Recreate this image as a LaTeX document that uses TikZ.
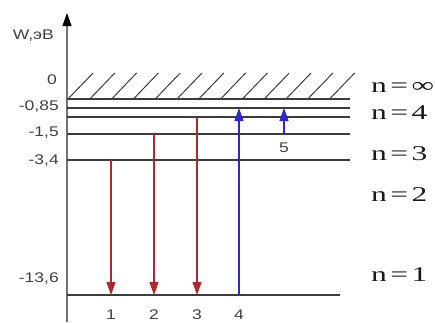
\documentclass[tikz,border=0pt]{standalone}
\usepackage{fontspec}
\setmainfont{Liberation Serif}
\newfontfamily\lsans[FakeStretch=1.25]{Liberation Sans}
\newfontfamily\nserif[FakeStretch=1.5]{Liberation Serif}
\usetikzlibrary{arrows.meta}
\definecolor{lvl}{HTML}{3C3C3C}
\definecolor{ared}{HTML}{B0282C}
\definecolor{ablue}{HTML}{2A2ACC}
\definecolor{txt}{HTML}{404040}
\tikzset{
  level/.style={draw=lvl, line width=1.3pt},
  hatchline/.style={draw=lvl, line width=1.0pt},
  emis/.style={draw=ared, line width=1.1pt, -{Triangle[length=13pt,width=9pt]}},
  absb/.style={draw=ablue, line width=1.1pt, -{Triangle[length=13pt,width=9pt]}},
  elab/.style={font=\lsans\fontsize{14}{14}\selectfont, text=txt, anchor=east, inner sep=0pt},
  nlab/.style={font=\nserif\fontsize{21}{21}\selectfont, text=black!90, anchor=west, inner sep=0pt},
  numlab/.style={font=\lsans\fontsize{14}{14}\selectfont, text=txt, inner sep=0pt}
}
\begin{document}
\begin{tikzpicture}[x=1pt,y=-1pt]
\useasboundingbox (0,0) rectangle (435,322);
% axis
\coordinate (ax0) at (67,322);
\coordinate (ax1) at (67,13);
\draw[draw=gray!90!black, line width=1.2pt, -{Triangle[length=13pt,width=9pt,fill=black,color=black]}] (ax0) -- (ax1);
\node[elab] (wlab) at (54,36) {W,эВ};
% levels
\coordinate (L0a) at (67,99);   \coordinate (L0b) at (350,99);
\coordinate (L5a) at (67,108);  \coordinate (L5b) at (350,108);
\coordinate (L4a) at (67,117);  \coordinate (L4b) at (350,117);
\coordinate (L3a) at (67,134);  \coordinate (L3b) at (350,134);
\coordinate (L2a) at (67,160);  \coordinate (L2b) at (350,160);
\coordinate (L1a) at (67,295);  \coordinate (L1b) at (340,295);
\draw[level, line width=1.7pt] (L0a) -- (L0b);
\draw[level] (L5a) -- (L5b);
\draw[level] (L4a) -- (L4b);
\draw[level] (L3a) -- (L3b);
\draw[level] (L2a) -- (L2b);
\draw[level] (L1a) -- (L1b);
% hatching
\foreach \k in {0,...,12} {
  \draw[hatchline] (68+21.8*\k,99) -- ++(25,-26);
}
% energy labels
\node[elab] (e0) at (57,80) {0};
\node[elab] (e1) at (59,107) {-0,85};
\node[elab] (e2) at (59,133) {-1,5};
\node[elab] (e3) at (59,161) {-3,4};
\node[elab] (e4) at (59,278) {-13,6};
% n labels
\node[nlab] (ninf) at (371,87) {n\,=\,∞};
\node[nlab] (n4) at (371,113) {n\,=\,4};
\node[nlab] (n3) at (371,154) {n\,=\,3};
\node[nlab] (n2) at (371,195) {n\,=\,2};
\node[nlab] (n1) at (371,275) {n\,=\,1};
% transitions
\coordinate (t1s) at (111,160); \coordinate (t1e) at (111,295);
\coordinate (t2s) at (154,134); \coordinate (t2e) at (154,295);
\coordinate (t3s) at (197,117); \coordinate (t3e) at (197,295);
\coordinate (t4s) at (239,295); \coordinate (t4e) at (239,108);
\coordinate (t5s) at (284,134); \coordinate (t5e) at (284,108);
\draw[emis] (t1s) -- (t1e);
\draw[emis] (t2s) -- (t2e);
\draw[emis] (t3s) -- (t3e);
\draw[absb] (t4s) -- (t4e);
\draw[absb] (t5s) -- (t5e);
\node[numlab] (l1) at (111,315) {1};
\node[numlab] (l2) at (154,315) {2};
\node[numlab] (l3) at (197,315) {3};
\node[numlab] (l4) at (239,315) {4};
\node[numlab] (l5) at (284,148) {5};
\end{tikzpicture}
\end{document}
